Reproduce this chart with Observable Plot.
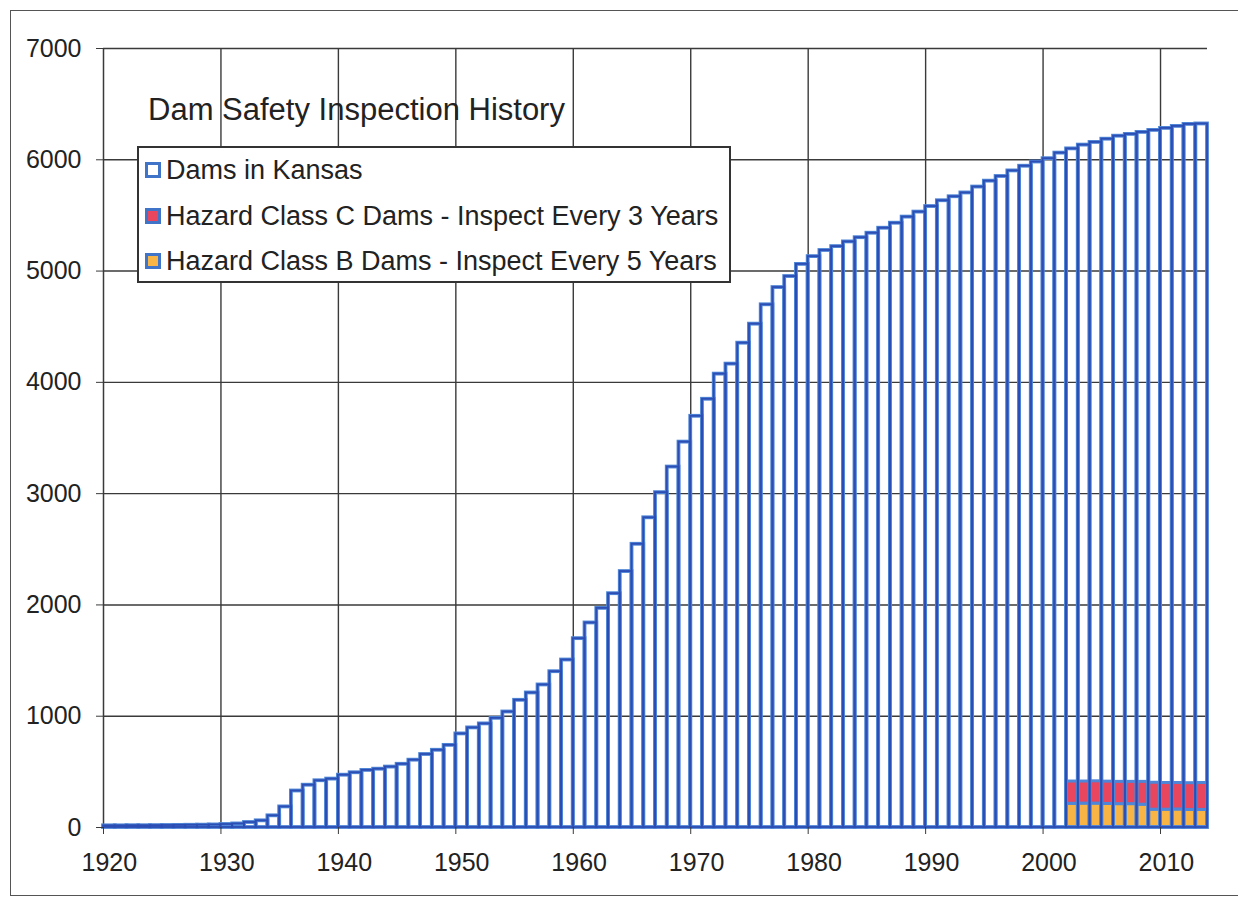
<!DOCTYPE html>
<html>
<head>
<meta charset="utf-8">
<script src="https://cdn.jsdelivr.net/npm/d3@7"></script>
<script src="https://cdn.jsdelivr.net/npm/@observablehq/plot@0.6"></script>
<style>
  html, body { margin: 0; padding: 0; background: #fff; overflow: hidden; width: 1238px; height: 900px; }
  #wrap { position: relative; width: 1238px; height: 900px; font-family: "Liberation Sans", Arial, Helvetica, sans-serif; color: #222; }
  #frame { position: absolute; left: 10px; top: 10px; width: 1260px; height: 886px; border: 1.5px solid #555; box-sizing: border-box; }
  #chart { position: absolute; left: 0; top: 0; }
  #title { position: absolute; left: 148px; top: 92px; font-size: 31px; white-space: nowrap; color: #222; }
  #legend { position: absolute; left: 137px; top: 146px; width: 594px; height: 137px; box-sizing: border-box; border: 2px solid #333; background: #fff; }
  .row { position: absolute; left: 6px; height: 30px; display: flex; align-items: center; font-size: 27px; white-space: nowrap; color: #222; }
  .sw { display: inline-block; width: 16px; height: 16px; box-sizing: border-box; border: 3px solid #3f74c8; margin-right: 5px; }
</style>
</head>
<body>
<div id="wrap">
  <div id="frame"></div>
  <div id="chart"></div>
  <div id="title"></div>
  <div id="legend"></div>
</div>
<script>
// ---- Data ----
const years = [
  1920,1921,1922,1923,1924,1925,1926,1927,1928,1929,
  1930,1931,1932,1933,1934,1935,1936,1937,1938,1939,
  1940,1941,1942,1943,1944,1945,1946,1947,1948,1949,
  1950,1951,1952,1953,1954,1955,1956,1957,1958,1959,
  1960,1961,1962,1963,1964,1965,1966,1967,1968,1969,
  1970,1971,1972,1973,1974,1975,1976,1977,1978,1979,
  1980,1981,1982,1983,1984,1985,1986,1987,1988,1989,
  1990,1991,1992,1993,1994,1995,1996,1997,1998,1999,
  2000,2001,2002,2003,2004,2005,2006,2007,2008,2009,
  2010,2011,2012,2013
];
const damsInKansas = [
  15,15,16,16,17,18,19,20,21,23,
  27,32,45,60,105,185,328,380,420,435,
  470,492,513,524,543,568,605,656,694,738,
  841,895,931,981,1038,1143,1209,1281,1400,1505,
  1697,1838,1969,2101,2300,2545,2783,3009,3239,3463,
  3695,3848,4074,4164,4352,4523,4697,4852,4951,5060,
  5130,5185,5220,5262,5300,5340,5385,5430,5485,5530,
  5580,5632,5668,5702,5755,5808,5850,5900,5942,5980,
  6010,6060,6098,6132,6156,6185,6212,6228,6246,6264,
  6282,6300,6318,6322
];
const hazardYears = [2002,2003,2004,2005,2006,2007,2008,2009,2010,2011,2012,2013];
const hazardClassB = [213,215,215,212,210,210,205,160,160,162,158,158];
const hazardClassC = [200,198,200,200,200,200,205,242,240,238,240,242];

const xTickLabels = [1920,1930,1940,1950,1960,1970,1980,1990,2000,2010];
const xGridYears = [1930,1940,1950,1960,1970,1980,1990,2000,2010];
const yTicks = [0,1000,2000,3000,4000,5000,6000,7000];
const yGrid = [1000,2000,3000,4000,5000,6000,7000];

const titleText = "Dam Safety Inspection History";
const seriesNames = [
  "Dams in Kansas",
  "Hazard Class C Dams - Inspect Every 3 Years",
  "Hazard Class B Dams - Inspect Every 5 Years"
];
const seriesColors = ["#ffffff", "#e8455e", "#f8b545"];

// ---- Tables ----
const dams = years.map((y, i) => ({year: y, count: damsInKansas[i]}));
const hazard = hazardYears.map((y, i) => ({year: y, b: hazardClassB[i], c: hazardClassC[i]}));

const gridStyle = {stroke: "#3a3a3a", strokeOpacity: 1, strokeWidth: 1.4};

const chart = Plot.plot({
  width: 1238,
  height: 900,
  marginLeft: 103,
  marginRight: 31,
  marginTop: 48,
  marginBottom: 73,
  x: {type: "linear", domain: [1920, 2014]},
  y: {type: "linear", domain: [0, 7000]},
  style: {fontFamily: '"Liberation Sans", Arial, Helvetica, sans-serif', fontSize: "25px", color: "#222", background: "transparent", overflow: "visible"},
  marks: [
    Plot.gridY(yGrid, gridStyle),
    Plot.gridX(xGridYears, gridStyle),
    Plot.ruleX([1920], {stroke: "#3a3a3a", strokeWidth: 1.5}),
    Plot.rectY(hazard, {x1: "year", x2: d => d.year + 1, y1: 0, y2: "b", fill: seriesColors[2], stroke: "#4f86d6", strokeWidth: 3}),
    Plot.rectY(hazard, {x1: "year", x2: d => d.year + 1, y1: "b", y2: d => d.b + d.c, fill: seriesColors[1], stroke: "#4f86d6", strokeWidth: 3}),
    Plot.rectY(dams, {x1: "year", x2: d => d.year + 1, y1: 0, y2: "count", fill: "none", stroke: "#4f86d6", strokeWidth: 3.8}),
    Plot.rectY(dams, {x1: "year", x2: d => d.year + 1, y1: 0, y2: "count", fill: "none", stroke: "#2c4db4", strokeWidth: 1.8}),
    Plot.axisY({ticks: yTicks, tickSize: 7, tickPadding: 15, tickFormat: d3.format("d"), label: null, stroke: "#3a3a3a", fill: "#222"}),
    Plot.axisX({ticks: xTickLabels, tickSize: 7, tickFormat: () => "", label: null, stroke: "#3a3a3a"}),
    Plot.axisX({ticks: xTickLabels.map(y => y + 0.5), tickSize: 0, tickPadding: 26, tickFormat: d => String(d - 0.5), label: null, fill: "#222"})
  ]
});
document.getElementById("chart").appendChild(chart);

document.getElementById("title").textContent = titleText;
const legend = document.getElementById("legend");
const rowTops = [7, 53, 98];
seriesNames.forEach((name, i) => {
  const row = document.createElement("div");
  row.className = "row";
  row.style.top = rowTops[i] + "px";
  const sw = document.createElement("span");
  sw.className = "sw";
  sw.style.background = seriesColors[i];
  const t = document.createElement("span");
  t.textContent = name;
  row.appendChild(sw);
  row.appendChild(t);
  legend.appendChild(row);
});
</script>
</body>
</html>
